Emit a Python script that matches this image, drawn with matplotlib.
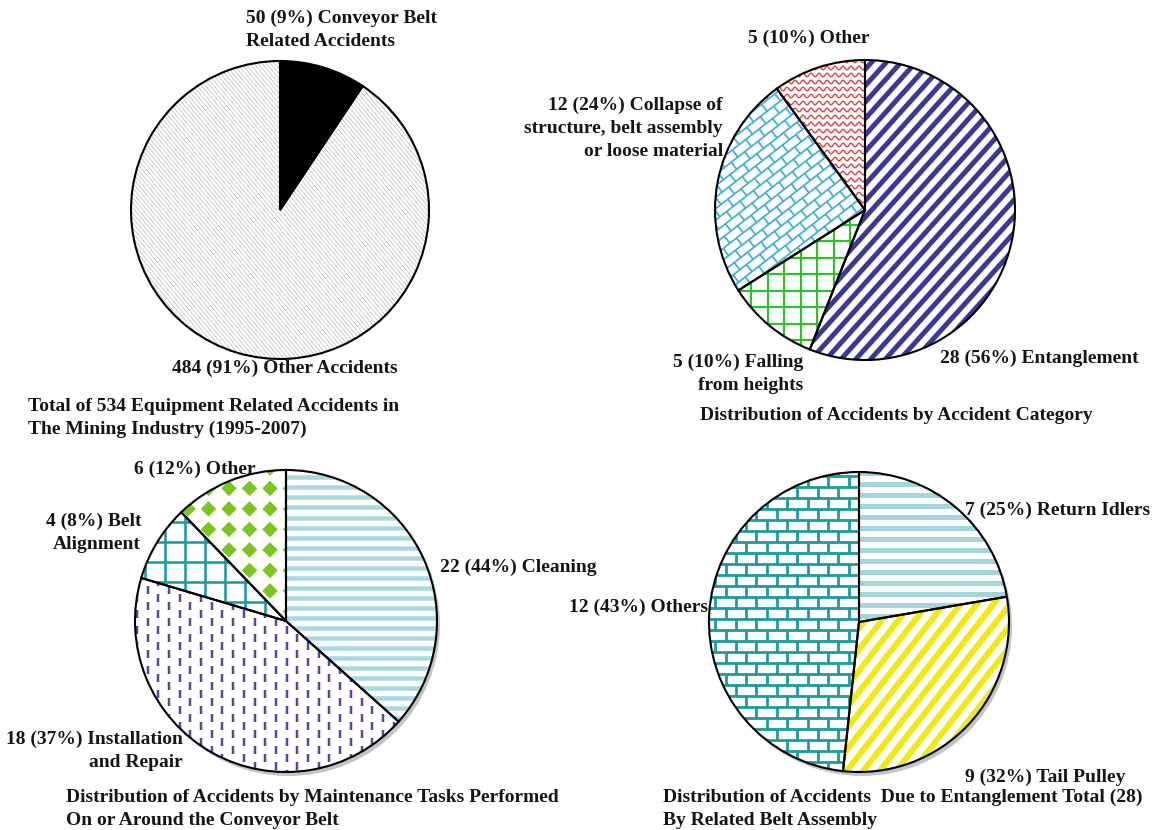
import numpy as np
import matplotlib
matplotlib.use("Agg")
import matplotlib.pyplot as plt
from matplotlib.collections import LineCollection, PolyCollection
from matplotlib.patches import Circle

W, H = 1153, 830

# ---- data ----
belt_vals = [50, 484]
belt_labels = ["50 (9%) Conveyor Belt\nRelated Accidents", "484 (91%) Other Accidents"]
belt_title = "Total of 534 Equipment Related Accidents in\nThe Mining Industry (1995-2007)"

cat_vals = [28, 5, 12, 5]
cat_labels = ["28 (56%) Entanglement", "5 (10%) Falling\nfrom heights",
              "12 (24%) Collapse of\nstructure, belt assembly\nor loose material", "5 (10%) Other"]
cat_title = "Distribution of Accidents by Accident Category"

task_vals = [22, 18, 4, 6]
# slice sizes as drawn in the original figure (percent)
task_drawn = [36.6, 43.0, 8.2, 12.2]
task_labels = ["22 (44%) Cleaning", "18 (37%) Installation\nand Repair",
               "4 (8%) Belt\nAlignment", "6 (12%) Other"]
task_title = "Distribution of Accidents by Maintenance Tasks Performed\nOn or Around the Conveyor Belt"

ent_vals = [7, 9, 12]
ent_drawn = [22.3, 29.4, 48.3]
ent_labels = ["7 (25%) Return Idlers", "9 (32%) Tail Pulley", "12 (43%) Others"]
ent_title = "Distribution of Accidents  Due to Entanglement Total (28)\nBy Related Belt Assembly"

PT = 0.72  # px -> pt at dpi 100


def rot(pts, ang, cx, cy):
    a = np.deg2rad(ang)
    c, s = np.cos(a), np.sin(a)
    x, y = pts[..., 0], pts[..., 1]
    return np.stack([cx + c * x - s * y, cy + s * x + c * y], axis=-1)


def add_lines(ax, segs, wedge, color, lw):
    lc = LineCollection(segs, colors=color, linewidths=lw * PT, zorder=2,
                        capstyle="butt")
    ax.add_collection(lc)
    lc.set_clip_path(wedge)


def stripes(ax, wedge, c, r, ang, period, lw, color):
    offs = np.arange(-r * 1.5, r * 1.5, period)
    segs = np.array([[[-2 * r, o], [2 * r, o]] for o in offs])
    add_lines(ax, rot(segs, ang, *c), wedge, color, lw)


def grid(ax, wedge, c, r, period, lw, color, ang=0):
    offs = np.arange(-r * 1.2, r * 1.2, period)
    segs = [[[-2 * r, o], [2 * r, o]] for o in offs] + [[[o, -2 * r], [o, 2 * r]] for o in offs]
    add_lines(ax, rot(np.array(segs), ang, *c), wedge, color, lw)


def bricks(ax, wedge, c, r, ang, bw, bh, lw, color):
    segs = []
    rows = np.arange(-1.3 * r, 1.3 * r, bh)
    for k, y in enumerate(rows):
        segs.append([[-2 * r, y], [2 * r, y]])
        shift = (k % 2) * bw / 2
        for x in np.arange(-1.3 * r, 1.3 * r, bw):
            segs.append([[x + shift, y], [x + shift, y + bh]])
    add_lines(ax, rot(np.array(segs), ang, *c), wedge, color, lw)


def waves(ax, wedge, c, r, period, wl, amp, lw, color):
    xs = np.linspace(-1.2 * r, 1.2 * r, 600)
    segs = []
    for y in np.arange(-1.2 * r, 1.2 * r, period):
        segs.append(np.column_stack([xs + c[0], c[1] + y + amp * np.sin(2 * np.pi * xs / wl)]))
    add_lines(ax, segs, wedge, color, lw)


def dashes(ax, wedge, c, r, sx, sy, ln, lw, color):
    segs = []
    for j, x in enumerate(np.arange(-1.2 * r, 1.2 * r, sx)):
        shift = (j % 2) * sy / 2
        for y in np.arange(-1.2 * r, 1.2 * r, sy):
            segs.append([[x, y + shift], [x, y + shift + ln]])
    add_lines(ax, rot(np.array(segs), 0, *c), wedge, color, lw)


def diamonds(ax, wedge, c, r, period, size, color, off=(0, 0)):
    polys = []
    h = size / 2
    for x in np.arange(-1.2 * r, 1.2 * r, period) + off[0]:
        for y in np.arange(-1.2 * r, 1.2 * r, period) + off[1]:
            polys.append([[c[0] + x - h, c[1] + y], [c[0] + x, c[1] + y + h],
                          [c[0] + x + h, c[1] + y], [c[0] + x, c[1] + y - h]])
    pc = PolyCollection(polys, facecolors=color, edgecolors="none", zorder=2)
    ax.add_collection(pc)
    pc.set_clip_path(wedge)


def draw_pie(ax, vals, c, r, fills, shadow=False):
    if shadow:
        ax.add_patch(Circle((c[0] + 3, c[1] - 4), r, color="#c4c4c4", zorder=0, lw=0))
    wedges, _ = ax.pie(vals, startangle=90, counterclock=False, center=c, radius=r,
                       colors=["white"] * len(vals),
                       wedgeprops=dict(edgecolor="none", zorder=1))
    for w, f in zip(wedges, fills):
        f(ax, w)
    ax.pie(vals, startangle=90, counterclock=False, center=c, radius=r,
           wedgeprops=dict(fill=False, edgecolor="black", linewidth=1.5, zorder=4))
    return wedges


def txt(ax, x, y, s, ha="left", size=14):
    # x, y in image pixel coordinates (y from top)
    ax.text(x, H - y, s, ha=ha, va="center", fontsize=size, fontweight="bold",
            family="Liberation Serif", linespacing=1.45, color="#151515")


fig = plt.figure(figsize=(W / 100, H / 100), dpi=100)
ax = fig.add_axes([0, 0, 1, 1])

# top-left pie
c1 = (280, H - 210)
r1 = 149
draw_pie(ax, belt_vals, c1, r1, [
    lambda a, w: w.set_facecolor("black"),
    lambda a, w: stripes(a, w, c1, r1, -50, 3.2, 0.6, "#b0b0b0"),
])

# top-right pie
c2 = (865, H - 210)
r2 = 150
draw_pie(ax, cat_vals, c2, r2, [
    lambda a, w: stripes(a, w, c2, r2, 48, 11, 5, "#3a3a96"),
    lambda a, w: grid(a, w, c2, r2, 16.5, 2.2, "#2fbf2f"),
    lambda a, w: bricks(a, w, c2, r2, 38, 17, 9, 1.8, "#45aedb"),
    lambda a, w: waves(a, w, c2, r2, 7, 8, 1.8, 1.3, "#e03a3a"),
])

# bottom-left pie
c3 = (286, H - 621)
r3 = 151
draw_pie(ax, task_drawn, c3, r3, [
    lambda a, w: stripes(a, w, c3, r3, 0, 10, 4.5, "#a9d9de"),
    lambda a, w: dashes(a, w, c3, r3, 10.7, 16, 8, 2.5, "#5348a6"),
    lambda a, w: grid(a, w, c3, r3, 20, 2.6, "#1c9c9c"),
    lambda a, w: diamonds(a, w, c3, r3, 20.5, 15.5, "#7cc520", off=(-19.3, 129.3 - 20.5 * 6)),
], shadow=True)

# bottom-right pie
c4 = (859, H - 622)
r4 = 150
draw_pie(ax, ent_drawn, c4, r4, [
    lambda a, w: stripes(a, w, c4, r4, 0, 11, 5, "#a3d5da"),
    lambda a, w: stripes(a, w, c4, r4, 52, 13, 6, "#f0ea10"),
    lambda a, w: bricks(a, w, c4, r4, 0, 20.5, 11, 2.8, "#1c9c9c"),
], shadow=True)

# labels
txt(ax, 246, 30, belt_labels[0])
txt(ax, 172, 368, belt_labels[1])
txt(ax, 28, 418, belt_title)

txt(ax, 940, 358, cat_labels[0])
txt(ax, 803, 374, cat_labels[1], ha="right")
txt(ax, 723, 128, cat_labels[2], ha="right")
txt(ax, 748, 38, cat_labels[3])
txt(ax, 700, 416, cat_title)

txt(ax, 440, 567, task_labels[0])
txt(ax, 183, 751, task_labels[1], ha="right")
txt(ax, 141, 533, task_labels[2], ha="right")
txt(ax, 134, 469, task_labels[3])
txt(ax, 66, 809, task_title)

txt(ax, 965, 510, ent_labels[0])
txt(ax, 965, 777, ent_labels[1])
txt(ax, 708, 607, ent_labels[2], ha="right")
txt(ax, 663, 809, ent_title)

ax.set_xlim(0, W)
ax.set_ylim(0, H)
ax.set_aspect("equal")
ax.axis("off")

fig.savefig("out.png", dpi=100)
